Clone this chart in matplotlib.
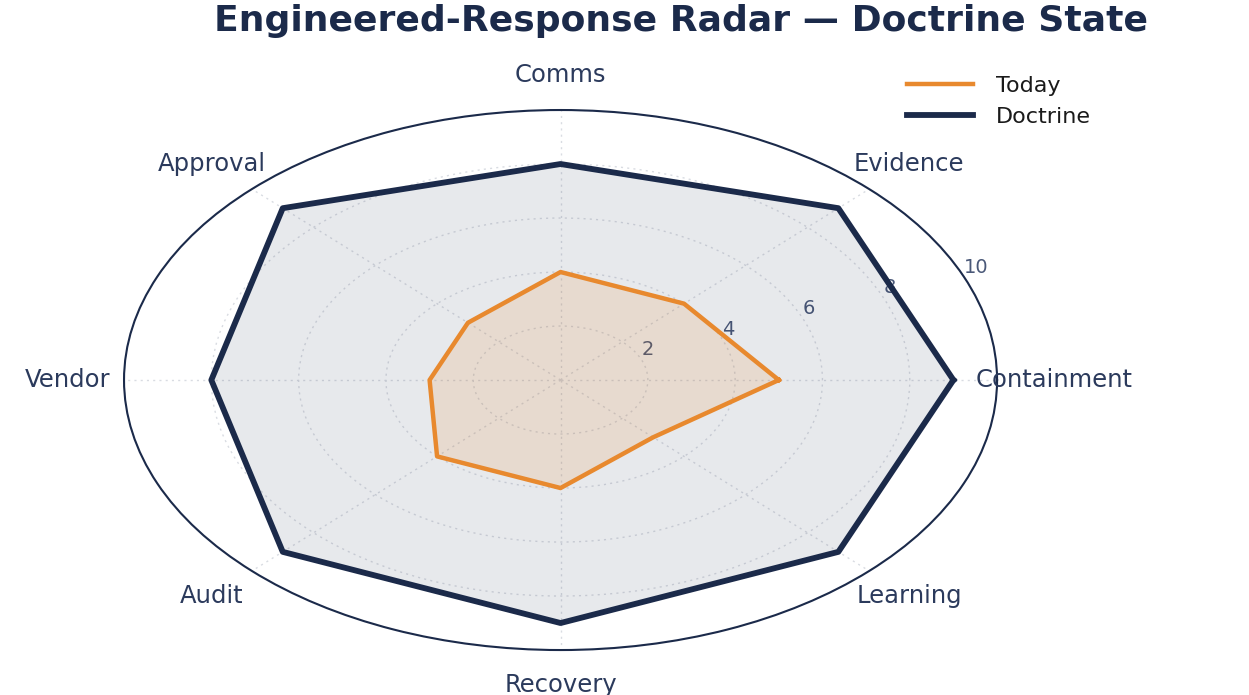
import numpy as np
import matplotlib.pyplot as plt

categories = ["Containment", "Evidence", "Comms", "Approval",
              "Vendor", "Audit", "Recovery", "Learning"]
today = [5, 4, 4, 3, 3, 4, 4, 3]
doctrine = [9, 9, 8, 9, 8, 9, 9, 9]
rticks = [2, 4, 6, 8, 10]

navy = "#1B2A4A"
orange = "#E8892E"
label_col = "#2B3A5C"
tick_col = "#4A5878"

angles = np.linspace(0, 2 * np.pi, len(categories), endpoint=False)
theta = np.append(angles, angles[0])

fig = plt.figure(figsize=(12.49, 6.95), dpi=100)
ax = fig.add_axes([0.0993, 0.0647, 0.699, 0.777], projection="polar")
ax.set_aspect("auto")

d = np.append(doctrine, doctrine[0])
t = np.append(today, today[0])
ax.fill(theta, d, color=navy, alpha=0.1, zorder=2)
ax.plot(theta, d, color=navy, lw=4.2, label="Doctrine", zorder=4)
ax.fill(theta, t, color=orange, alpha=0.15, zorder=3)
ax.plot(theta, t, color=orange, lw=3.2, label="Today", zorder=5)

ax.set_ylim(0, 10)
ax.set_xticks(angles)
ax.set_xticklabels([])
ax.set_rticks(rticks)
ax.set_yticklabels([str(v) for v in rticks], fontsize=14, color=tick_col)
ax.set_rlabel_position(22.5)
ax.grid(True, color="#d9dce2", linestyle=(0, (1.5, 3)), lw=1.0)
ax.spines["polar"].set_color(navy)
ax.spines["polar"].set_linewidth(1.5)
ax.tick_params(axis="x", length=0)

for a, name in zip(angles, categories):
    ax.text(a, 11.3, name, ha="center", va="center", fontsize=17.5,
            color=label_col, clip_on=False)

fig.text(0.545, 0.97, "Engineered-Response Radar \u2014 Doctrine State",
         ha="center", va="center", fontsize=26, fontweight="bold", color=navy)

handles, labels = ax.get_legend_handles_labels()
leg = fig.legend(handles[::-1], labels[::-1], loc="upper left",
                 bbox_to_anchor=(0.71, 0.92), frameon=False, fontsize=16,
                 handlelength=3.0, handletextpad=1.0, labelspacing=0.5)
for txt in leg.get_texts():
    txt.set_color("#1a1a1a")

fig.savefig("out.png", dpi=100)
